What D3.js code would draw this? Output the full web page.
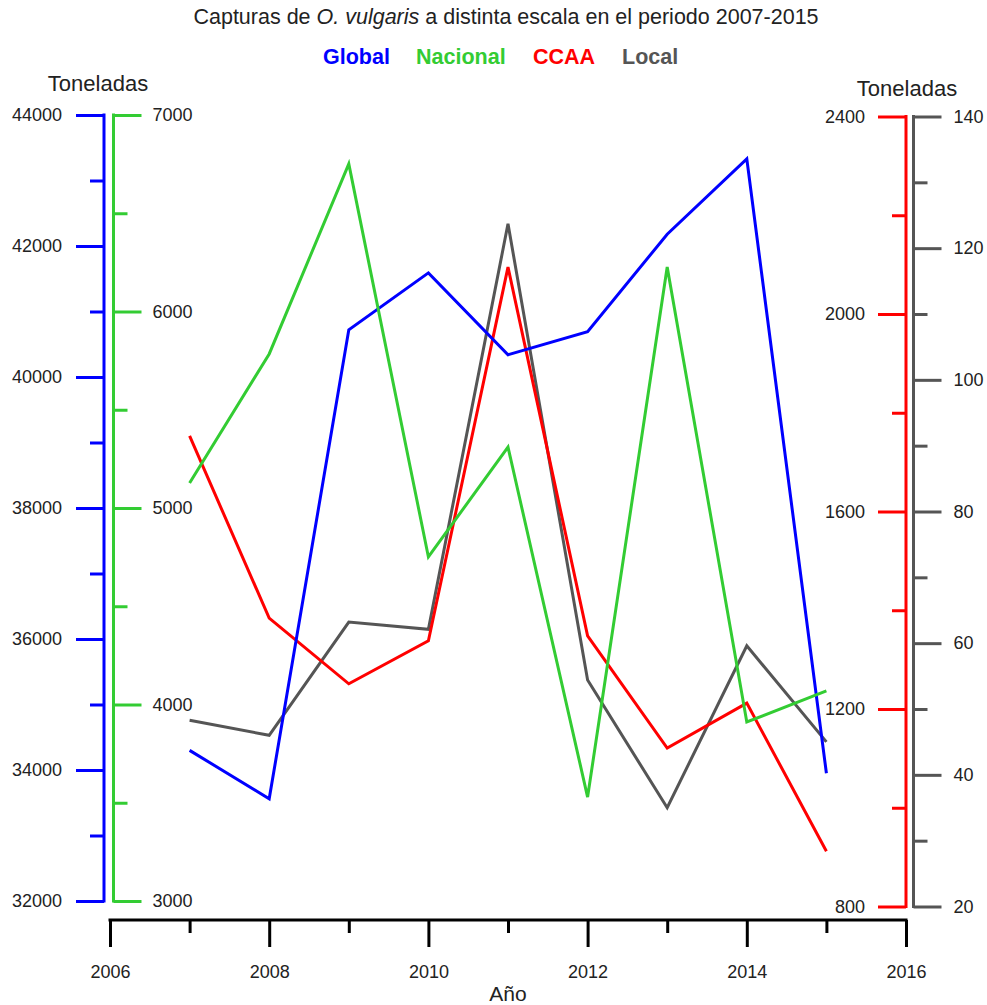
<!DOCTYPE html>
<html>
<head>
<meta charset="utf-8">
<script src="https://cdn.jsdelivr.net/npm/d3@7"></script>
<style>
  html, body { margin: 0; padding: 0; background: #fff; }
  svg text { font-family: "Liberation Sans", Arial, sans-serif; fill: #222; }
</style>
</head>
<body>
<svg id="chart" width="987" height="1005"></svg>
<script>
// Captures of O. vulgaris at four scales, 2007-2015 (tonnes)
const years    = [2007, 2008, 2009, 2010, 2011, 2012, 2013, 2014, 2015];
const global   = [34300, 33560, 40720, 41590, 40340, 40690, 42180, 43330, 33950];
const nacional = [5127, 5784, 6751, 4751, 5310, 3529, 6226, 3911, 4069];
const ccaa     = [1753, 1384, 1251, 1338, 2095, 1348, 1121, 1212, 912];
const local    = [48.3, 46.0, 63.2, 62.1, 123.7, 54.4, 35.0, 59.6, 45.0];

const seriesNames  = ["Global", "Nacional", "CCAA", "Local"];
const seriesColors = ["#0000ff", "#33cc33", "#ff0000", "#555555"];

const xTicks = [2006, 2008, 2010, 2012, 2014, 2016];
const xMinor = [2007, 2009, 2011, 2013, 2015];

const svg = d3.select("#chart");

const x = d3.scaleLinear().domain([2006, 2016]).range([110, 906]);

const yGlobal   = d3.scaleLinear().domain([32000, 44000]).range([901, 115]);
const yNacional = d3.scaleLinear().domain([3000, 7000]).range([901, 115]);
const yCcaa     = d3.scaleLinear().domain([800, 2400]).range([906.5, 116.5]);
const yLocal    = d3.scaleLinear().domain([20, 140]).range([906.5, 116.5]);

const tickFont = "18px";

// Title
const title = svg.append("text")
  .attr("x", 506).attr("y", 24)
  .attr("text-anchor", "middle")
  .style("font-size", "21.5px");
title.append("tspan").text("Capturas de ");
title.append("tspan").style("font-style", "italic").text("O. vulgaris");
title.append("tspan").text(" a distinta escala en el periodo 2007-2015");

// Legend
const legendX = [323, 416, 533, 622];
seriesNames.forEach((name, i) => {
  svg.append("text")
    .attr("x", legendX[i]).attr("y", 64)
    .style("font-size", "21.5px")
    .style("font-weight", "bold")
    .style("fill", seriesColors[i])
    .text(name);
});

// Axis titles
svg.append("text").attr("x", 98).attr("y", 91).attr("text-anchor", "middle")
  .style("font-size", "22px").text("Toneladas");
svg.append("text").attr("x", 907).attr("y", 96).attr("text-anchor", "middle")
  .style("font-size", "22px").text("Toneladas");

// Vertical axis with major + minor ticks, drawn with d3 axis generators
function vAxis(scale, xPos, side, color, majors, minors, labelGap) {
  const make = side === "left" ? d3.axisLeft : d3.axisRight;
  const gMinor = svg.append("g").attr("transform", `translate(${xPos},0)`)
    .call(make(scale).tickValues(minors).tickSize(14).tickFormat(""));
  const gMajor = svg.append("g").attr("transform", `translate(${xPos},0)`)
    .call(make(scale).tickValues(majors).tickSize(28).tickPadding(labelGap).tickFormat(d3.format("d")));
  [gMinor, gMajor].forEach(g => {
    g.selectAll(".domain").remove();
    g.selectAll("line").attr("stroke", color).attr("stroke-width", 3);
    g.selectAll("text").style("font-size", tickFont).style("fill", "#222")
      .style("font-family", "Liberation Sans, Arial, sans-serif");
  });
  const r = scale.range();
  svg.append("line")
    .attr("x1", xPos).attr("x2", xPos)
    .attr("y1", r[1] - 1.5).attr("y2", r[0] + 1.5)
    .attr("stroke", color).attr("stroke-width", 3);
}

vAxis(yGlobal, 104, "left", seriesColors[0],
  d3.range(32000, 44001, 2000), d3.range(33000, 44000, 2000), 14);
vAxis(yNacional, 113.5, "right", seriesColors[1],
  d3.range(3000, 7001, 1000), d3.range(3500, 7000, 1000), 11);
vAxis(yCcaa, 906, "left", seriesColors[2],
  d3.range(800, 2401, 400), d3.range(1000, 2400, 400), 13);
vAxis(yLocal, 913.5, "right", seriesColors[3],
  d3.range(20, 141, 20), d3.range(30, 140, 20), 12);

// X axis
const gxMinor = svg.append("g").attr("transform", "translate(0,920)")
  .call(d3.axisBottom(x).tickValues(xMinor).tickSize(13).tickFormat(""));
const gxMajor = svg.append("g").attr("transform", "translate(0,920)")
  .call(d3.axisBottom(x).tickValues(xTicks).tickSize(27).tickPadding(18).tickFormat(d3.format("d")));
[gxMinor, gxMajor].forEach(g => {
  g.selectAll(".domain").remove();
  g.selectAll("line").attr("stroke", "#000").attr("stroke-width", 3);
  g.selectAll("text").style("font-size", tickFont).style("fill", "#222")
    .style("font-family", "Liberation Sans, Arial, sans-serif");
});
svg.append("line")
  .attr("x1", x(2006) - 1.5).attr("x2", x(2016) + 1.5)
  .attr("y1", 920).attr("y2", 920)
  .attr("stroke", "#000").attr("stroke-width", 3);

svg.append("text").attr("x", 508).attr("y", 1001).attr("text-anchor", "middle")
  .style("font-size", "21px").text("Año");

// Series lines (drawn in order so later ones sit on top)
const seriesData = [
  { values: global,   y: yGlobal,   color: seriesColors[0] },
  { values: nacional, y: yNacional, color: seriesColors[1] },
  { values: ccaa,     y: yCcaa,     color: seriesColors[2] },
  { values: local,    y: yLocal,    color: seriesColors[3] }
];
const drawOrder = [3, 2, 0, 1];
drawOrder.forEach(i => {
  const s = seriesData[i];
  const line = d3.line()
    .x((d, k) => x(years[k]))
    .y(d => s.y(d));
  svg.append("path")
    .datum(s.values)
    .attr("d", line)
    .attr("fill", "none")
    .attr("stroke", s.color)
    .attr("stroke-width", 3)
    .attr("stroke-linejoin", "miter");
});
</script>
</body>
</html>
